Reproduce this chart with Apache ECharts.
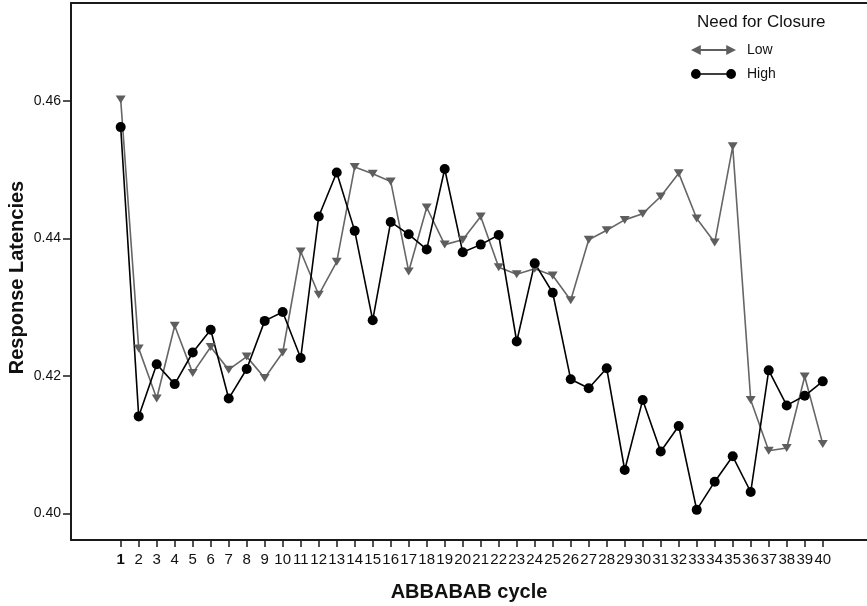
<!DOCTYPE html>
<html>
<head>
<meta charset="utf-8">
<script src="https://cdn.jsdelivr.net/npm/echarts@6/dist/echarts.min.js"></script>
<style>
  html, body { margin: 0; padding: 0; background: #fff; }
  #chart { width: 867px; height: 606px; }
</style>
</head>
<body>
<div id="chart"></div>
<script>
// ABBABAB cycle numbers
const cycles = [1, 2, 3, 4, 5, 6, 7, 8, 9, 10, 11, 12, 13, 14, 15, 16, 17, 18, 19, 20,
                21, 22, 23, 24, 25, 26, 27, 28, 29, 30, 31, 32, 33, 34, 35, 36, 37, 38, 39, 40];

// Mean response latencies, low need for closure
const lowNFC = [0.4602, 0.4240, 0.4167, 0.4273, 0.4204, 0.4242, 0.4209, 0.4228, 0.4197, 0.4234,
                0.4381, 0.4318, 0.4366, 0.4504, 0.4494, 0.4483, 0.4352, 0.4445, 0.4391, 0.4398,
                0.4432, 0.4358, 0.4348, 0.4356, 0.4346, 0.4310, 0.4398, 0.4412, 0.4427, 0.4436,
                0.4461, 0.4495, 0.4429, 0.4394, 0.4534, 0.4165, 0.4091, 0.4095, 0.4199, 0.4101];

// Mean response latencies, high need for closure
const highNFC = [0.4562, 0.4141, 0.4217, 0.4188, 0.4234, 0.4267, 0.4167, 0.4210, 0.4280, 0.4293,
                 0.4226, 0.4432, 0.4496, 0.4411, 0.4281, 0.4424, 0.4406, 0.4384, 0.4501, 0.4380,
                 0.4391, 0.4405, 0.4250, 0.4364, 0.4321, 0.4195, 0.4182, 0.4211, 0.4063, 0.4165,
                 0.4090, 0.4127, 0.4005, 0.4046, 0.4083, 0.4031, 0.4208, 0.4157, 0.4171, 0.4192];

// Y-axis tick values
const yTicks = [0.40, 0.42, 0.44, 0.46];

const FONT = '"Liberation Sans", Arial, sans-serif';
const AXIS_COLOR = '#1a1a1a';

// Legend glyphs: a double-headed arrow for Low, a dumbbell for High
const arrowIcon = 'path://M0,5 L10,0 L10,4 L36,4 L36,0 L46,5 L36,10 L36,6 L10,6 L10,10 Z';
const dumbbellIcon = 'path://M0,5 A5,5 0 1,1 10,5 A5,5 0 1,1 0,5 Z M9,4.3 L37,4.3 L37,5.7 L9,5.7 Z M36,5 A5,5 0 1,1 46,5 A5,5 0 1,1 36,5 Z';

const chart = echarts.init(document.getElementById('chart'), null, { renderer: 'canvas' });

chart.setOption({
  animation: false,
  backgroundColor: '#fff',
  textStyle: { fontFamily: FONT },
  title: {
    text: 'Need for Closure',
    left: 697,
    top: 14,
    padding: 0,
    textStyle: { fontFamily: FONT, fontSize: 17, fontWeight: 'normal', color: '#111' }
  },
  legend: {
    orient: 'vertical',
    left: 691,
    top: 43,
    padding: 0,
    itemWidth: 45,
    itemHeight: 11,
    itemGap: 10,
    data: [
      { name: 'Low', icon: arrowIcon },
      { name: 'High', icon: dumbbellIcon }
    ],
    textStyle: { fontFamily: FONT, fontSize: 14, color: '#111', padding: [0, 0, 0, 6] }
  },
  grid: { left: 71, right: 0, top: 3, bottom: 66, containLabel: false, outerBoundsMode: 'none' },
  xAxis: [
    {
      type: 'value',
      position: 'bottom',
      min: -1.761,
      max: 42.46,
      name: 'ABBABAB cycle',
      nameLocation: 'middle',
      nameGap: 42,
      nameMoveOverlap: false,
      nameTextStyle: { fontFamily: FONT, fontSize: 20, fontWeight: 'bold', color: '#111' },
      splitLine: { show: false },
      axisLine: { onZero: false, lineStyle: { color: AXIS_COLOR, width: 2 } },
      axisTick: { length: 7, customValues: cycles, lineStyle: { color: AXIS_COLOR, width: 1.5 } },
      axisLabel: {
        customValues: cycles,
        margin: 12,
        fontFamily: FONT,
        fontSize: 15,
        color: '#111',
        formatter: v => (v === 1 ? '{first|1}' : String(v)),
        rich: { first: { fontFamily: FONT, fontSize: 15, fontWeight: 'bold', color: '#111' } }
      }
    },
    {
      type: 'value',
      position: 'top',
      min: -1.761,
      max: 42.46,
      splitLine: { show: false },
      axisLine: { show: true, onZero: false, lineStyle: { color: AXIS_COLOR, width: 2 } },
      axisTick: { show: false },
      axisLabel: { show: false }
    }
  ],
  yAxis: {
    type: 'value',
    min: 0.396115,
    max: 0.47426,
    name: 'Response Latencies',
    nameLocation: 'middle',
    nameGap: 44,
    nameMoveOverlap: false,
    nameTextStyle: { fontFamily: FONT, fontSize: 20, fontWeight: 'bold', color: '#111', padding: [0, 12, 0, 0] },
    splitLine: { show: false },
    axisLine: { show: true, onZero: false, lineStyle: { color: AXIS_COLOR, width: 2 } },
    axisTick: { show: true, length: 8, customValues: yTicks, lineStyle: { color: AXIS_COLOR, width: 1.5 } },
    axisLabel: {
      customValues: yTicks,
      margin: 10,
      fontFamily: FONT,
      fontSize: 14,
      color: '#111',
      formatter: v => v.toFixed(2)
    }
  },
  series: [
    {
      name: 'Low',
      type: 'line',
      xAxisIndex: 0,
      data: cycles.map((c, i) => [c, lowNFC[i]]),
      symbol: 'triangle',
      symbolRotate: 180,
      symbolSize: [10, 8],
      showAllSymbol: true,
      lineStyle: { color: '#666', width: 1.6 },
      itemStyle: { color: '#5e5e5e' }
    },
    {
      name: 'High',
      type: 'line',
      xAxisIndex: 0,
      data: cycles.map((c, i) => [c, highNFC[i]]),
      symbol: 'circle',
      symbolSize: 10,
      showAllSymbol: true,
      lineStyle: { color: '#000', width: 1.6 },
      itemStyle: { color: '#000' }
    }
  ]
});
</script>
</body>
</html>
